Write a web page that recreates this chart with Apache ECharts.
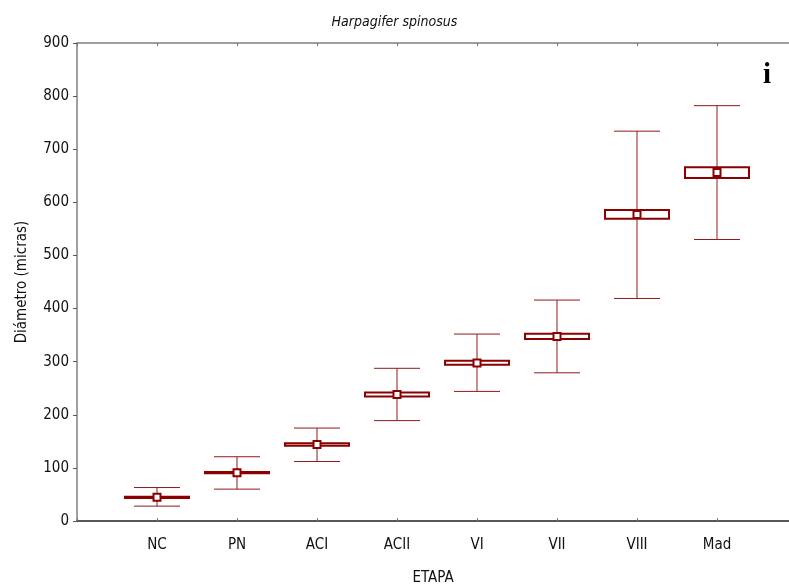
<!DOCTYPE html>
<html>
<head>
<meta charset="utf-8">
<script src="https://cdn.jsdelivr.net/npm/echarts@6/dist/echarts.min.js"></script>
<style>
  html, body { margin: 0; padding: 0; background: #fff; }
  #chart { width: 789px; height: 587px; }
</style>
</head>
<body>
<div id="chart"></div>
<script>
// Egg diameter by developmental stage (mean, box = mean ± SE, whiskers = range)
const categories  = ['NC', 'PN', 'ACI', 'ACII', 'VI', 'VII', 'VIII', 'Mad'];
const means       = [44.5, 91, 144, 238, 297.5, 347.5, 577, 656];
const boxLow      = [43.3, 89.8, 141.5, 234.5, 294, 342.5, 569, 646];
const boxHigh     = [45.8, 92.3, 146.5, 242, 301.5, 352.5, 585.5, 666];
const whiskerLow  = [28, 60, 112, 189, 244, 279, 419, 530];
const whiskerHigh = [63, 121, 175, 287.5, 352, 416, 734, 782];
const yTicks      = [0, 100, 200, 300, 400, 500, 600, 700, 800, 900];

const FONT = '"Liberation Sans Narrow", "Arial Narrow", "DejaVu Sans Condensed", sans-serif';
const DARK = '#8b0000';
const WHISK = '#8f1b1b';

const seriesData = categories.map((c, i) =>
  [i + 1, whiskerLow[i], boxLow[i], means[i], boxHigh[i], whiskerHigh[i]]);

function renderItem(params, api) {
  const x = api.value(0);
  const unit = api.size([1, 0])[0];
  const pLow = api.coord([x, api.value(1)]);
  const pBoxLow = api.coord([x, api.value(2)]);
  const pMean = api.coord([x, api.value(3)]);
  const pBoxHigh = api.coord([x, api.value(4)]);
  const pHigh = api.coord([x, api.value(5)]);
  const cx = pMean[0];
  const capHalf = unit * 0.575 / 2;
  const boxHalf = unit * 0.8 / 2;
  const wStyle = { stroke: WHISK, lineWidth: 1, fill: null };
  return {
    type: 'group',
    children: [
      { type: 'line', shape: { x1: cx, y1: pHigh[1], x2: cx, y2: pLow[1] }, style: wStyle },
      { type: 'line', shape: { x1: cx - capHalf, y1: pHigh[1], x2: cx + capHalf, y2: pHigh[1] }, style: wStyle },
      { type: 'line', shape: { x1: cx - capHalf, y1: pLow[1], x2: cx + capHalf, y2: pLow[1] }, style: wStyle },
      { type: 'rect',
        shape: { x: cx - boxHalf, y: pBoxHigh[1], width: boxHalf * 2, height: pBoxLow[1] - pBoxHigh[1] },
        style: { fill: '#fff', stroke: DARK, lineWidth: 2 } },
      { type: 'rect',
        shape: { x: cx - 3.5, y: pMean[1] - 3.5, width: 7, height: 7 },
        style: { fill: '#fff', stroke: DARK, lineWidth: 2 } }
    ]
  };
}

const chart = echarts.init(document.getElementById('chart'), null, { renderer: 'canvas' });

const catLabel = v => (Number.isInteger(v) && v >= 1 && v <= categories.length) ? categories[v - 1] : '';

chart.setOption({
  animation: false,
  backgroundColor: '#fff',
  title: {
    text: 'Harpagifer spinosus',
    left: 'center',
    top: 10,
    textStyle: { fontFamily: FONT, fontStyle: 'italic', fontWeight: 'normal', fontSize: 14, color: '#111' }
  },
  graphic: [{
    type: 'text',
    left: 763,
    top: 61,
    style: { text: 'i', font: 'bold 29px "Liberation Serif", "Times New Roman", serif', fill: '#000' }
  }],
  grid: { left: 77, right: 0, top: 43, bottom: 66, containLabel: false, outerBoundsMode: 'none' },
  xAxis: [{
    type: 'value',
    min: 0, max: 8.9, interval: 1,
    name: 'ETAPA',
    nameLocation: 'middle',
    nameGap: 50,
    nameTextStyle: { fontFamily: FONT, fontSize: 15, color: '#111' },
    axisLine: { lineStyle: { color: '#222', width: 1.5 } },
    axisTick: { inside: true, length: 3, lineStyle: { color: '#777' } },
    axisLabel: { formatter: catLabel, margin: 17, fontFamily: FONT, fontSize: 15, color: '#111', showMaxLabel: false },
    splitLine: { show: false }
  }, {
    type: 'value',
    position: 'top',
    min: 0, max: 8.9, interval: 1,
    axisLine: { lineStyle: { color: '#808080', width: 1.5 } },
    axisTick: { inside: true, length: 3, lineStyle: { color: '#777' } },
    axisLabel: { show: false },
    splitLine: { show: false }
  }],
  yAxis: {
    type: 'value',
    min: yTicks[0], max: yTicks[yTicks.length - 1], interval: 100,
    name: 'Diámetro (micras)',
    nameLocation: 'middle',
    nameGap: 47,
    nameTextStyle: { fontFamily: FONT, fontSize: 15, color: '#111' },
    axisLine: { show: true, lineStyle: { color: '#808080', width: 1.5 } },
    axisTick: { show: true, inside: false, length: 4, lineStyle: { color: '#555' } },
    axisLabel: { margin: 8, fontFamily: FONT, fontSize: 15, color: '#111' },
    splitLine: { show: false }
  },
  series: [{
    type: 'custom',
    renderItem: renderItem,
    encode: { x: 0, y: [1, 5] },
    data: seriesData,
    clip: false
  }]
});
</script>
</body>
</html>
